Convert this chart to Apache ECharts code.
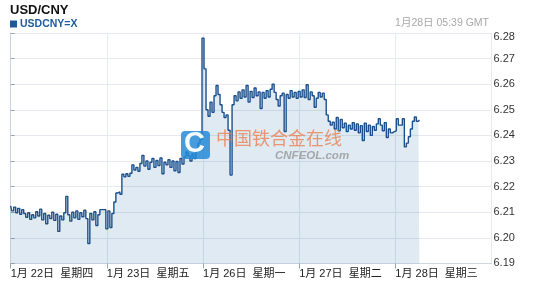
<!DOCTYPE html>
<html>
<head>
<meta charset="utf-8">
<script src="https://cdn.jsdelivr.net/npm/echarts@6/dist/echarts.min.js"></script>
<style>
html,body{margin:0;padding:0;background:#fff;}
#c{width:533px;height:293px;}
</style>
</head>
<body>
<div id="c"></div>
<script>
// Day labels for the x axis (each day = 48 half-hour slots)
const dayLabels = ['1月 22日  星期四','1月 23日  星期五','1月 26日  星期一','1月 27日  星期二','1月 28日  星期三'];
const yTicks = [6.19,6.20,6.21,6.22,6.23,6.24,6.25,6.26,6.27,6.28];
// USDCNY=X quotes, one per half-hour slot
const day1 = [6.2125,6.2105,6.2120,6.2098,6.2115,6.2092,6.2110,6.2095,6.2080,6.2098,6.2072,6.2090,6.2078,6.2102,6.2085,6.2112,6.2070,6.2095,6.2055,6.2088,6.2075,6.2100,6.2068,6.2092,6.2025,6.2085,6.2070,6.2098,6.2162,6.2090,6.2065,6.2100,6.2078,6.2105,6.2072,6.2098,6.2082,6.2108,6.2075,6.1978,6.2095,6.2070,6.2102,6.2048,6.2090,6.2110,6.2110,6.2110];
const day2 = [6.2035,6.2105,6.2040,6.2095,6.2140,6.2175,6.2180,6.2170,6.2248,6.2238,6.2250,6.2240,6.2252,6.2285,6.2265,6.2275,6.2260,6.2290,6.2322,6.2280,6.2300,6.2268,6.2295,6.2310,6.2275,6.2302,6.2282,6.2312,6.2250,6.2295,6.2285,6.2305,6.2275,6.2300,6.2262,6.2298,6.2255,6.2310,6.2288,6.2315,6.2335,6.2320,6.2300,6.2328,6.2310,6.2345,6.2370,6.2385];
const day3 = [6.2780,6.2660,6.2500,6.2475,6.2530,6.2490,6.2555,6.2595,6.2560,6.2520,6.2490,6.2470,6.2480,6.2420,6.2245,6.2520,6.2555,6.2535,6.2570,6.2545,6.2578,6.2550,6.2595,6.2530,6.2572,6.2548,6.2585,6.2555,6.2570,6.2505,6.2568,6.2545,6.2575,6.2550,6.2580,6.2600,6.2568,6.2540,6.2515,6.2555,6.2565,6.2415,6.2560,6.2545,6.2575,6.2550,6.2568,6.2545];
const day4 = [6.2572,6.2550,6.2578,6.2548,6.2598,6.2540,6.2570,6.2555,6.2510,6.2545,6.2568,6.2550,6.2565,6.2540,6.2480,6.2455,6.2440,6.2452,6.2425,6.2470,6.2418,6.2462,6.2430,6.2448,6.2415,6.2440,6.2425,6.2450,6.2420,6.2445,6.2410,6.2438,6.2380,6.2448,6.2415,6.2440,6.2400,6.2435,6.2420,6.2445,6.2465,6.2440,6.2418,6.2450,6.2392,6.2425,6.2410,6.2415];
const day5 = [6.2418,6.2465,6.2440,6.2440,6.2465,6.2355,6.2370,6.2395,6.2425,6.2455,6.2472,6.2455,6.2460];

const values = day1.concat(day2, day3, day4, day5);
const seriesData = values.map((v, i) => [i, v]);

const font = '"Liberation Sans", Arial, "Noto Sans CJK SC", sans-serif';
const chart = echarts.init(document.getElementById('c'), null, {renderer: 'canvas'});
chart.setOption({
  animation: false,
  backgroundColor: '#ffffff',
  grid: {left: 10.7, right: 41.5, top: 33, bottom: 29.6, containLabel: false},
  xAxis: {
    type: 'value', min: 0, max: 240, interval: 48,
    axisLine: {show: true, lineStyle: {color: '#cfd8e2', width: 1}},
    axisTick: {show: true, length: 5, lineStyle: {color: '#9aa4ae'}},
    axisLabel: {
      show: true, align: 'left', margin: 5, color: '#222', fontSize: 11, fontFamily: font,
      showMaxLabel: false,
      formatter: v => { const k = Math.round(v / 48); return dayLabels[k] || ''; }
    },
    splitLine: {show: true, lineStyle: {color: '#e6e9ef', width: 1}}
  },
  yAxis: {
    type: 'value', position: 'right', min: yTicks[0], max: yTicks[yTicks.length - 1], interval: 0.01,
    axisLine: {show: true, lineStyle: {color: '#c8d2de', width: 1}},
    axisTick: {show: true, length: 4, lineStyle: {color: '#9aa4ae'}},
    axisLabel: {
      show: true, margin: 2, color: '#333', fontSize: 11, fontFamily: font,
      formatter: v => Math.abs(v - 6.28) < 1e-6 ? '{a|6.28}' : v.toFixed(2),
      rich: {a: {padding: [8, 0, 0, 0], color: '#333', fontSize: 11, fontFamily: font}}
    },
    splitLine: {show: true, lineStyle: {color: '#e6e9ef', width: 1}}
  },
  series: [{
    type: 'line', step: 'middle', showSymbol: false, symbol: 'none',
    data: seriesData,
    lineStyle: {color: '#1a4f8c', width: 1.4},
    areaStyle: {color: 'rgba(40,112,172,0.21)'},
    z: 2
  }],
  graphic: [
    {type: 'text', left: 10, top: 4, style: {text: 'USD/CNY', font: 'bold 13px ' + font, fill: '#111'}},
    {type: 'rect', shape: {x: 10, y: 20.5, width: 7, height: 7}, style: {fill: '#1f5a96'}},
    {type: 'text', left: 20, top: 18.5, style: {text: 'USDCNY=X', font: 'bold 10.5px ' + font, fill: '#1f5a9a'}},
    {type: 'text', right: 44, top: 18, style: {text: '1月28日 05:39 GMT', font: '10.5px ' + font, fill: '#a8a8a8'}},
    // watermark
    {type: 'rect', z: 10, shape: {x: 181, y: 131, width: 29, height: 28, r: 4}, style: {fill: 'rgba(38,139,214,0.85)'}},
    {type: 'text', z: 11, left: 184, top: 129, style: {text: 'C', font: 'bold 29px ' + font, fill: 'rgba(255,255,255,0.95)'}},
    {type: 'text', z: 10, left: 216, top: 129, style: {text: '中国铁合金在线', font: '18px "Noto Sans CJK SC", sans-serif', fill: 'rgba(236,120,70,0.75)'}},
    {type: 'text', z: 10, left: 275, top: 150, style: {text: 'CNFEOL.com', font: 'italic bold 11.5px ' + font, fill: 'rgba(150,150,150,0.8)'}}
  ]
});
</script>
</body>
</html>
